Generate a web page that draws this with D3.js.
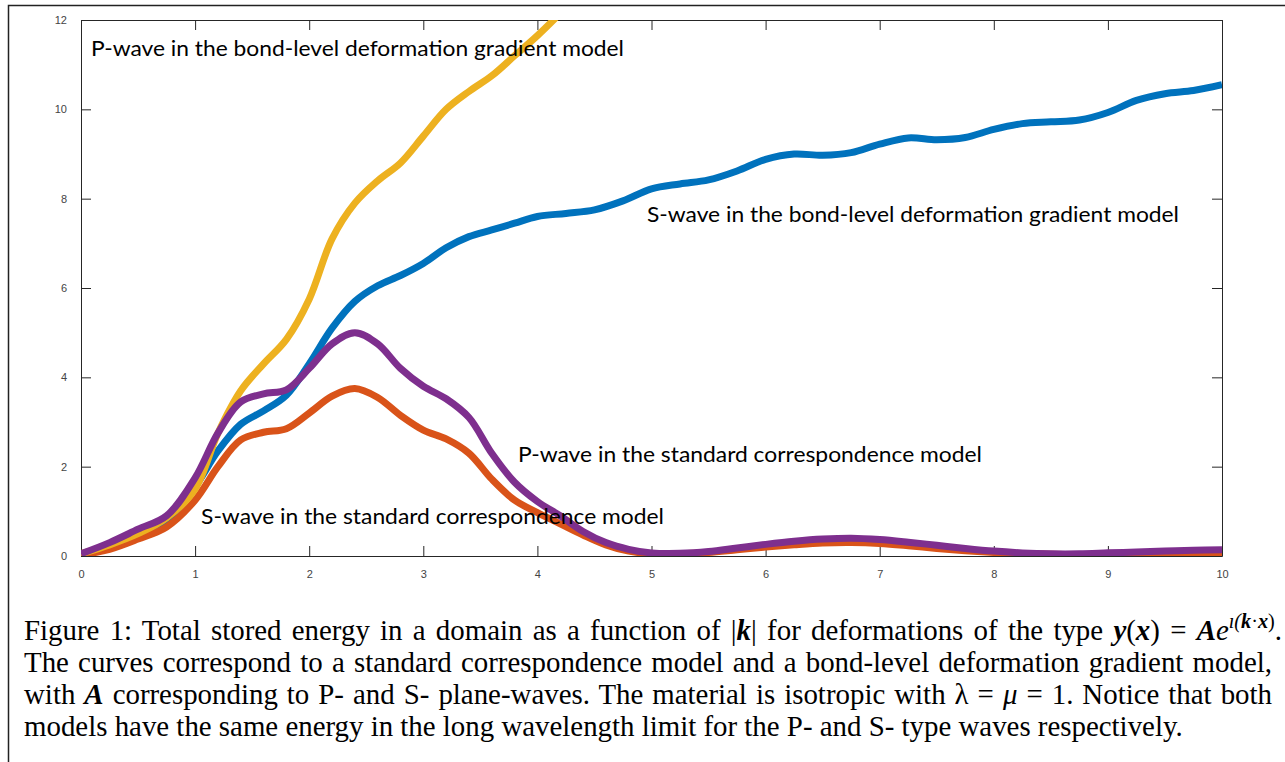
<!DOCTYPE html>
<html>
<head>
<meta charset="utf-8">
<script src="https://cdn.jsdelivr.net/npm/d3@7"></script>
<style>
  body { margin: 0; background: #fff; }
</style>
</head>
<body>
<script>
// Chart size
const WIDTH = 1285;
const HEIGHT = 762;

// Tick labels
const xTicks = [0, 1, 2, 3, 4, 5, 6, 7, 8, 9, 10];
const yTicks = [0, 2, 4, 6, 8, 10, 12];

// Series: [|k|, energy]
const pWaveBond = [
  [0, 0.05], [0.25, 0.25], [0.5, 0.5], [0.75, 0.85], [1, 1.5], [1.2, 2.75], [1.4, 3.7],
  [1.6, 4.3], [1.8, 4.85], [2, 5.75], [2.2, 7.1], [2.4, 7.9], [2.6, 8.4], [2.8, 8.8],
  [3, 9.4], [3.2, 10.0], [3.4, 10.4], [3.6, 10.75], [3.8, 11.2], [4.0, 11.65], [4.2, 12.15]
];
const sWaveBond = [
  [0, 0.03], [0.25, 0.25], [0.5, 0.5], [0.75, 0.8], [1, 1.55], [1.2, 2.35], [1.4, 2.95],
  [1.6, 3.25], [1.8, 3.6], [2, 4.3], [2.2, 5.1], [2.4, 5.7], [2.6, 6.05], [2.8, 6.28],
  [3, 6.55], [3.2, 6.9], [3.4, 7.15], [3.6, 7.3], [3.8, 7.45], [4, 7.6], [4.25, 7.67],
  [4.5, 7.75], [4.75, 7.95], [5, 8.22], [5.25, 8.33], [5.5, 8.42], [5.75, 8.62], [6, 8.88],
  [6.25, 9.0], [6.5, 8.97], [6.75, 9.03], [7, 9.22], [7.25, 9.36], [7.5, 9.32], [7.75, 9.37],
  [8, 9.55], [8.25, 9.68], [8.5, 9.72], [8.75, 9.76], [9, 9.93], [9.25, 10.2], [9.5, 10.35],
  [9.75, 10.42], [10, 10.55]
];
const pWaveStd = [
  [0, 0.05], [0.25, 0.3], [0.5, 0.6], [0.75, 0.9], [1, 1.75], [1.2, 2.75], [1.4, 3.45],
  [1.6, 3.63], [1.8, 3.72], [2, 4.2], [2.2, 4.75], [2.4, 5.0], [2.6, 4.75], [2.8, 4.2],
  [3, 3.8], [3.2, 3.52], [3.4, 3.1], [3.6, 2.3], [3.8, 1.65], [4, 1.22], [4.2, 0.9],
  [4.4, 0.55], [4.6, 0.3], [4.8, 0.15], [5, 0.07], [5.25, 0.06], [5.5, 0.1], [5.75, 0.18],
  [6, 0.26], [6.25, 0.33], [6.5, 0.38], [6.75, 0.4], [7, 0.37], [7.25, 0.31], [7.5, 0.24],
  [7.75, 0.17], [8, 0.11], [8.25, 0.07], [8.5, 0.05], [8.75, 0.05], [9, 0.07], [9.25, 0.09],
  [9.5, 0.11], [9.75, 0.13], [10, 0.14]
];
const sWaveStd = [
  [0, 0.02], [0.25, 0.15], [0.5, 0.38], [0.75, 0.65], [1, 1.25], [1.2, 2.0], [1.4, 2.6],
  [1.6, 2.77], [1.8, 2.85], [2, 3.2], [2.2, 3.58], [2.4, 3.75], [2.6, 3.55], [2.8, 3.15],
  [3, 2.82], [3.2, 2.62], [3.4, 2.3], [3.6, 1.72], [3.8, 1.25], [4, 0.97], [4.2, 0.72],
  [4.4, 0.47], [4.6, 0.25], [4.8, 0.11], [5, 0.05], [5.25, 0.05], [5.5, 0.08], [5.75, 0.14],
  [6, 0.2], [6.25, 0.25], [6.5, 0.29], [6.75, 0.3], [7, 0.28], [7.25, 0.23], [7.5, 0.17],
  [7.75, 0.12], [8, 0.08], [8.25, 0.05], [8.5, 0.04], [8.75, 0.03], [9, 0.03], [9.25, 0.04],
  [9.5, 0.04], [9.75, 0.05], [10, 0.05]
];

// Curve labels
const labelTexts = [
  'P-wave in the bond-level deformation gradient model',
  'S-wave in the bond-level deformation gradient model',
  'P-wave in the standard correspondence model',
  'S-wave in the standard correspondence model'
];

// Plot box
const plot = { left: 81, right: 1222, top: 20, bottom: 556 };

const svg = d3.select('body').append('svg')
  .attr('width', WIDTH)
  .attr('height', HEIGHT);

// outer frame of the figure
svg.append('path')
  .attr('d', `M8.5,${HEIGHT} V5.5 H${WIDTH}`)
  .attr('fill', 'none')
  .attr('stroke', '#222')
  .attr('stroke-width', 1.5);

const x = d3.scaleLinear().domain([0, 10]).range([plot.left, plot.right]);
const y = d3.scaleLinear().domain([0, 12]).range([plot.bottom, plot.top]);

const axisColor = '#262626';
const tickLen = 10;

function styleAxis(g) {
  g.select('.domain').attr('stroke', axisColor).attr('stroke-width', 1);
  g.selectAll('.tick line').attr('stroke', axisColor).attr('stroke-width', 1);
  g.selectAll('.tick text')
    .attr('fill', '#444')
    .attr('font-family', '"Liberation Sans", Arial, sans-serif')
    .attr('font-size', 11);
}

svg.append('g')
  .attr('transform', `translate(0,${plot.bottom})`)
  .call(d3.axisBottom(x).tickValues(xTicks).tickFormat(d3.format('d'))
    .tickSizeInner(-tickLen).tickSizeOuter(0).tickPadding(tickLen + 4))
  .call(styleAxis);

svg.append('g')
  .attr('transform', `translate(0,${plot.top})`)
  .call(d3.axisTop(x).tickValues(xTicks).tickFormat('')
    .tickSizeInner(-tickLen).tickSizeOuter(0))
  .call(styleAxis);

svg.append('g')
  .attr('transform', `translate(${plot.left},0)`)
  .call(d3.axisLeft(y).tickValues(yTicks).tickFormat(d3.format('d'))
    .tickSizeInner(-tickLen).tickSizeOuter(0).tickPadding(tickLen + 4))
  .call(styleAxis);

svg.append('g')
  .attr('transform', `translate(${plot.right},0)`)
  .call(d3.axisRight(y).tickValues(yTicks).tickFormat('')
    .tickSizeInner(-tickLen).tickSizeOuter(0))
  .call(styleAxis);

// clip curves to the plot box
svg.append('clipPath').attr('id', 'plotClip')
  .append('rect')
  .attr('x', plot.left).attr('y', plot.top)
  .attr('width', plot.right - plot.left).attr('height', plot.bottom - plot.top);

const line = d3.line()
  .x(d => x(d[0]))
  .y(d => y(d[1]))
  .curve(d3.curveCatmullRom.alpha(0.5));

// MATLAB colour order, drawn in plot order
const series = [
  { data: sWaveBond, color: '#0072BD' },
  { data: sWaveStd, color: '#D95319' },
  { data: pWaveBond, color: '#EDB120' },
  { data: pWaveStd, color: '#7E2F8E' }
];

svg.append('g').attr('clip-path', 'url(#plotClip)')
  .selectAll('path')
  .data(series)
  .join('path')
  .attr('d', d => line(d.data))
  .attr('fill', 'none')
  .attr('stroke', d => d.color)
  .attr('stroke-width', 7)
  .attr('stroke-linejoin', 'round');

// curve labels: left x, baseline y, width (pixels)
const labelLayout = [
  [91, 56, 533],
  [647, 222, 532],
  [518, 462, 464],
  [201, 524, 463]
];

svg.append('g')
  .selectAll('text')
  .data(labelTexts)
  .join('text')
  .attr('x', (d, i) => labelLayout[i][0])
  .attr('y', (d, i) => labelLayout[i][1])
  .attr('textLength', (d, i) => labelLayout[i][2])
  .attr('lengthAdjust', 'spacingAndGlyphs')
  .attr('font-family', 'Lato, "Open Sans", sans-serif')
  .attr('font-size', 21)
  .attr('fill', '#000')
  .text(d => d);

// caption
const captionLines = [
  [
    { t: 'Figure 1: Total stored energy in a domain as a function of |' },
    { t: 'k', bi: true }, { t: '| for deformations of the type ' },
    { t: 'y', bi: true }, { t: '(' }, { t: 'x', bi: true }, { t: ') = ' },
    { t: 'A', bi: true }, { t: 'e', it: true },
    { t: 'ı(', sup: true, it: true, up: true }, { t: 'k', sup: true, bi: true },
    { t: '·', sup: true }, { t: 'x', sup: true, bi: true }, { t: ')', sup: true },
    { t: '.', down: true }
  ],
  [{ t: 'The curves correspond to a standard correspondence model and a bond-level deformation gradient model,' }],
  [
    { t: 'with ' }, { t: 'A', bi: true },
    { t: ' corresponding to P- and S- plane-waves. The material is isotropic with λ = ' },
    { t: 'μ', it: true }, { t: ' = 1. Notice that both' }
  ],
  [{ t: 'models have the same energy in the long wavelength limit for the P- and S- type waves respectively.' }]
];

const capLeft = 24;
const capRight = [1282, 1272, 1272, 1183];
const capBase = [640, 672, 704, 736];

const cap = svg.append('g')
  .attr('font-family', '"Liberation Serif", "Times New Roman", serif')
  .attr('fill', '#000');

// size the caption font so the last (unjustified) line fits its width
const probe = cap.append('text').attr('font-size', 100)
  .text(captionLines[3][0].t);
const capFont = 100 * (capRight[3] - capLeft) / probe.node().getComputedTextLength();
probe.remove();
const supFont = capFont * 0.7;
const supShift = capFont * 0.42;

captionLines.forEach((parts, i) => {
  const text = cap.append('text')
    .attr('x', capLeft)
    .attr('y', capBase[i])
    .attr('font-size', capFont);
  parts.forEach(p => {
    const ts = text.append('tspan').text(p.t);
    if (p.bi) ts.attr('font-weight', 'bold').attr('font-style', 'italic');
    if (p.it) ts.attr('font-style', 'italic');
    if (p.sup) ts.attr('font-size', supFont);
    if (p.up) ts.attr('dy', -supShift);
    if (p.down) ts.attr('dy', supShift);
  });
  if (i < 3) {
    const natural = text.node().getComputedTextLength();
    const spaces = (text.text().match(/ /g) || []).length;
    const extra = (capRight[i] - capLeft - natural) / spaces;
    text.attr('word-spacing', extra);
  }
});
</script>
</body>
</html>
